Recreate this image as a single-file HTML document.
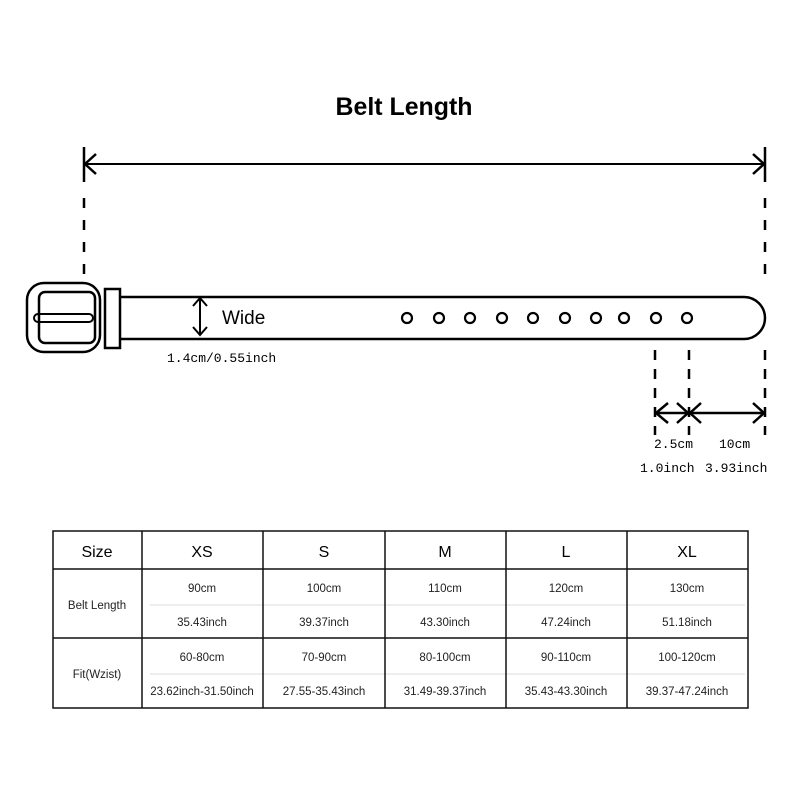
<!DOCTYPE html>
<html><head><meta charset="utf-8"><style>
html,body{margin:0;padding:0;background:#fff;}
svg{display:block;}
.t{font-family:"Liberation Sans",sans-serif;}
.m{font-family:"Liberation Mono",monospace;font-size:13px;}
.c{font-family:"Liberation Sans",sans-serif;font-size:11.5px;text-anchor:middle;fill:#222;}
</style></head><body>
<svg width="800" height="800" viewBox="0 0 800 800" xmlns="http://www.w3.org/2000/svg">
<text x="404" y="115" class="t" font-size="25" font-weight="bold" text-anchor="middle" textLength="137" lengthAdjust="spacingAndGlyphs">Belt Length</text>
<g stroke="#000" stroke-width="2.5" fill="none">
 <line x1="84" y1="147" x2="84" y2="182"/>
 <line x1="765" y1="147" x2="765" y2="182"/>
 <line x1="84" y1="164" x2="765" y2="164" stroke-width="2"/>
 <polyline points="96,154 85,164 96,174"/>
 <polyline points="753,154 764,164 753,174"/>
 <line x1="84" y1="198" x2="84" y2="275" stroke-dasharray="10,12"/>
 <line x1="765" y1="198" x2="765" y2="275" stroke-dasharray="10,12"/>
 <path d="M120 297 H744 A21 21 0 0 1 744 339 H120"/>
 <rect x="105" y="289" width="15" height="59"/>
 <rect x="27" y="283" width="73" height="69" rx="17"/>
 <rect x="39" y="292" width="56" height="51" rx="6"/>
 <rect x="34" y="314" width="59" height="8" rx="4" stroke-width="2"/>
 <g stroke-width="2.2">
 <circle cx="407" cy="318" r="5"/><circle cx="439" cy="318" r="5"/><circle cx="470" cy="318" r="5"/>
 <circle cx="502" cy="318" r="5"/><circle cx="533" cy="318" r="5"/><circle cx="565" cy="318" r="5"/>
 <circle cx="596" cy="318" r="5"/><circle cx="624" cy="318" r="5"/><circle cx="656" cy="318" r="5"/>
 <circle cx="687" cy="318" r="5"/>
 </g>
 <line x1="200" y1="298" x2="200" y2="335" stroke-width="2"/>
 <polyline points="193,306 200,298 207,306" stroke-width="2"/>
 <polyline points="193,327 200,335 207,327" stroke-width="2"/>
 <line x1="655" y1="350" x2="655" y2="435" stroke-dasharray="10,9"/>
 <line x1="689" y1="350" x2="689" y2="435" stroke-dasharray="10,9"/>
 <line x1="765" y1="350" x2="765" y2="435" stroke-dasharray="10,9"/>
 <line x1="655" y1="413" x2="765" y2="413" stroke-width="2.5"/>
 <polyline points="668,403 656,413 668,423"/>
 <polyline points="677,403 688,413 677,423"/>
 <polyline points="701,403 690,413 701,423"/>
 <polyline points="753,403 764,413 753,423"/>
</g>
<text x="222" y="324" class="t" font-size="19">Wide</text>
<text x="167" y="362" class="m">1.4cm/0.55inch</text>
<text x="654" y="448" class="m">2.5cm</text>
<text x="719" y="448" class="m">10cm</text>
<text x="640" y="472" class="m">1.0inch</text>
<text x="705" y="472" class="m">3.93inch</text>
<g stroke="#ddd" stroke-width="1">
 <line x1="150" y1="605" x2="745" y2="605"/>
 <line x1="150" y1="674" x2="745" y2="674"/>
</g>
<g stroke="#111" stroke-width="1.5" fill="none">
 <rect x="53" y="531" width="695" height="177"/>
 <line x1="53" y1="569" x2="748" y2="569"/>
 <line x1="53" y1="638" x2="748" y2="638"/>
 <line x1="142" y1="531" x2="142" y2="708"/>
 <line x1="263" y1="531" x2="263" y2="708"/>
 <line x1="385" y1="531" x2="385" y2="708"/>
 <line x1="506" y1="531" x2="506" y2="708"/>
 <line x1="627" y1="531" x2="627" y2="708"/>
</g>
<g class="t" font-size="16" text-anchor="middle">
 <text x="97" y="557">Size</text><text x="202" y="557">XS</text><text x="324" y="557">S</text>
 <text x="445" y="557">M</text><text x="566" y="557">L</text><text x="687" y="557">XL</text>
</g>
<text x="97" y="609" class="c">Belt Length</text>
<text x="97" y="678" class="c">Fit(Wzist)</text>
<text x="202" y="592" class="c">90cm</text><text x="202" y="626" class="c">35.43inch</text>
<text x="324" y="592" class="c">100cm</text><text x="324" y="626" class="c">39.37inch</text>
<text x="445" y="592" class="c">110cm</text><text x="445" y="626" class="c">43.30inch</text>
<text x="566" y="592" class="c">120cm</text><text x="566" y="626" class="c">47.24inch</text>
<text x="687" y="592" class="c">130cm</text><text x="687" y="626" class="c">51.18inch</text>
<text x="202" y="661" class="c">60-80cm</text><text x="202" y="695" class="c">23.62inch-31.50inch</text>
<text x="324" y="661" class="c">70-90cm</text><text x="324" y="695" class="c">27.55-35.43inch</text>
<text x="445" y="661" class="c">80-100cm</text><text x="445" y="695" class="c">31.49-39.37inch</text>
<text x="566" y="661" class="c">90-110cm</text><text x="566" y="695" class="c">35.43-43.30inch</text>
<text x="687" y="661" class="c">100-120cm</text><text x="687" y="695" class="c">39.37-47.24inch</text>
</svg>
</body></html>
